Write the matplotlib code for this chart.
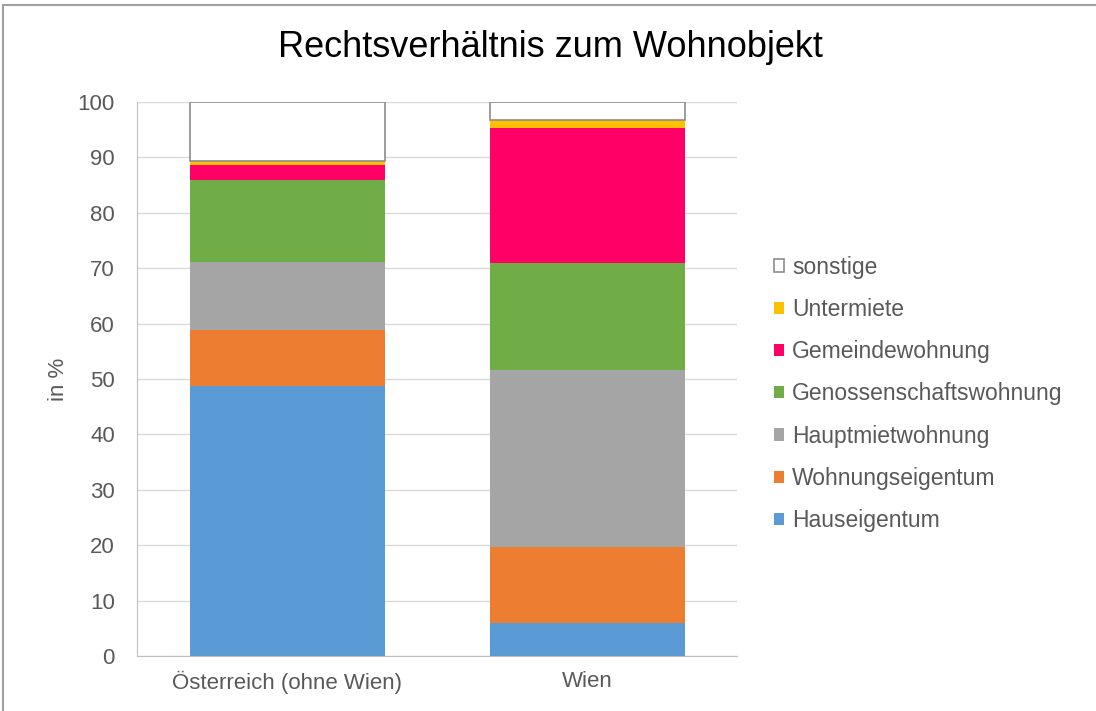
import numpy as np
import matplotlib
matplotlib.use("Agg")
import matplotlib.pyplot as plt
from matplotlib.patches import Rectangle

plt.rcParams["font.family"] = ["Liberation Sans", "DejaVu Sans"]

# Data (percent)
regions = ["Österreich (ohne Wien)", "Wien"]
categories = ["Hauseigentum", "Wohnungseigentum", "Hauptmietwohnung",
              "Genossenschaftswohnung", "Gemeindewohnung", "Untermiete", "sonstige"]
hauseigentum = [48.7, 6.0]
wohnungseigentum = [10.2, 13.7]
hauptmiete = [12.2, 32.0]
genossenschaft = [14.9, 19.2]
gemeinde = [2.7, 24.5]
untermiete = [0.6, 1.3]
sonstige = [10.7, 3.3]

series = [hauseigentum, wohnungseigentum, hauptmiete, genossenschaft,
          gemeinde, untermiete, sonstige]
colors = ["#5B9BD5", "#ED7D31", "#A5A5A5", "#70AD47", "#FF0066", "#FFC000", "#FFFFFF"]

fig = plt.figure(figsize=(10.96, 7.11), dpi=100)
ax = fig.add_axes([0.125, 0.0774, 0.5475, 0.7791])

x = np.arange(len(regions))
bottom = np.zeros(len(regions))
handles = []
for name, vals, col in zip(categories, series, colors):
    edge = "#8C8C8C" if name == "sonstige" else "none"
    b = ax.bar(x, vals, width=0.65, bottom=bottom, color=col, label=name,
               edgecolor=edge, linewidth=1.2, zorder=3)
    handles.append(b)
    bottom += np.array(vals)

ax.set_xlim(-0.5, 1.5)
ax.set_ylim(0, 100)
ax.set_yticks(range(0, 101, 10))
ax.set_xticks(x)
ax.set_xticklabels(regions)
ax.tick_params(axis="both", length=0, labelsize=16, colors="#595959")
ax.tick_params(axis="y", pad=16)
ax.tick_params(axis="x", pad=11)
ax.grid(axis="y", color="#D9D9D9", linewidth=1, zorder=0)
for side in ["top", "right"]:
    ax.spines[side].set_visible(False)
for side in ["left", "bottom"]:
    ax.spines[side].set_color("#BFBFBF")
ax.set_ylabel("in %", fontsize=16, color="#595959", labelpad=6)

fig.text(0.502, 0.933, "Rechtsverhältnis zum Wohnobjekt", fontsize=26,
         ha="center", va="center", color="#000000")

ax.legend(handles[::-1], categories[::-1], loc="center left",
          bbox_to_anchor=(0.706, 0.446), bbox_transform=fig.transFigure,
          frameon=False, fontsize=16.5, handlelength=0.45, handleheight=0.45,
          handletextpad=0.35, labelspacing=0.84, borderpad=0, borderaxespad=0,
          labelcolor="#595959")

# chart border
fig.add_artist(Rectangle((3 / 1096, -0.05), 1.1, 1.05 - 5 / 711,
                         transform=fig.transFigure, fill=False,
                         edgecolor="#A0A0A0", linewidth=1.5))

fig.savefig("out.png", dpi=100)
